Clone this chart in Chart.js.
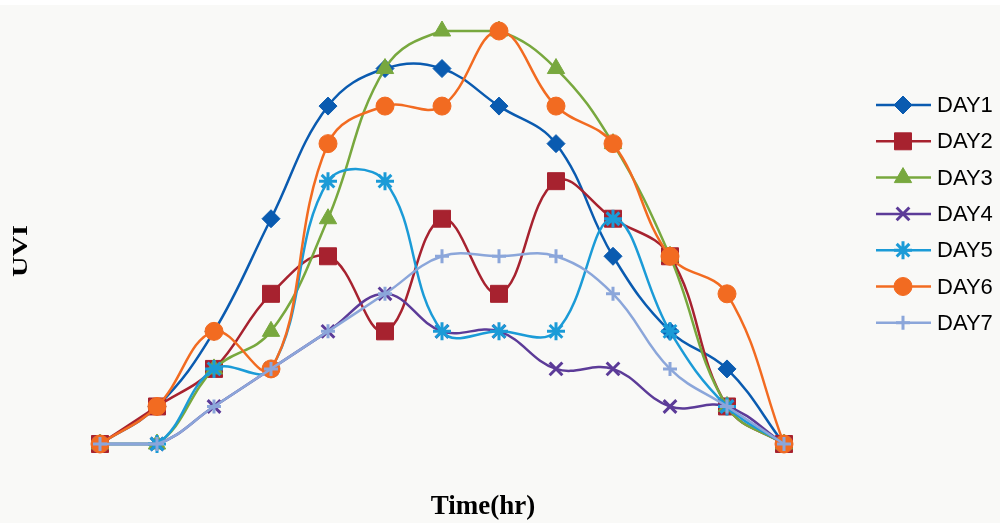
<!DOCTYPE html>
<html>
<head>
<meta charset="utf-8">
<script src="https://cdn.jsdelivr.net/npm/chart.js@4/dist/chart.umd.min.js"></script>
<style>
    body { margin: 0; background: #f9f9f7; }
    #graficoContainer { position: relative; width: 1000px; height: 523px; }
</style>
</head>
<body>
<div id="graficoContainer"><canvas id="graficoUVI"></canvas></div>
<script>
// Dados (UVI por hora, 7 dias)
const horas = ['1', '2', '3', '4', '5', '6', '7', '8', '9', '10', '11', '12', '13'];
const nomesDias = ['DAY1', 'DAY2', 'DAY3', 'DAY4', 'DAY5', 'DAY6', 'DAY7'];
const dia1 = [0, 1, 3, 6, 9, 10, 10, 9, 8, 5, 3, 2, 0];
const dia2 = [0, 1, 2, 4, 5, 3, 6, 4, 7, 6, 5, 1, 0];
const dia3 = [0, 0, 2, 3, 6, 10, 11, 11, 10, 8, 5, 1, 0];
const dia4 = [0, 0, 1, 2, 3, 4, 3, 3, 2, 2, 1, 1, 0];
const dia5 = [0, 0, 2, 2, 7, 7, 3, 3, 3, 6, 3, 1, 0];
const dia6 = [0, 1, 3, 2, 8, 9, 9, 11, 9, 8, 5, 4, 0];
const dia7 = [0, 0, 1, 2, 3, 4, 5, 5, 5, 4, 2, 1, 0];

const valores = [dia1, dia2, dia3, dia4, dia5, dia6, dia7];
const cores = ['#0a5bb0', '#a7222f', '#78a83e', '#5c3b98', '#1b9bd7', '#f26b21', '#8ba6da'];
const marcadores = ['rectRot', 'rect', 'triangle', 'crossRot', 'star', 'circle', 'cross'];
const raios = [9, 12, 10, 9, 9, 9, 7];

// Monta os datasets (Excel desenha a última série por cima)
const datasets = valores.map((dados, i) => {
    const traco = ['crossRot', 'star', 'cross'].includes(marcadores[i]);
    return {
        label: nomesDias[i],
        data: dados,
        borderColor: cores[i],
        backgroundColor: cores[i],
        borderWidth: 2.5,
        tension: 0.4,
        pointStyle: marcadores[i],
        pointRadius: raios[i],
        pointBorderWidth: traco ? 3 : 1,
        pointBorderColor: cores[i],
        pointBackgroundColor: cores[i],
        order: 7 - i,
        clip: false
    };
});

// Plugin para fundo, títulos dos eixos e legenda
const extras = {
    id: 'extras',
    beforeDraw(chart) {
        const ctx = chart.ctx;
        ctx.save();
        ctx.fillStyle = '#f9f9f7';
        ctx.fillRect(0, 0, chart.width, chart.height);
        ctx.fillStyle = '#ffffff';
        ctx.fillRect(0, 0, chart.width, 5);
        ctx.restore();
    },
    afterDraw(chart) {
        const ctx = chart.ctx;
        ctx.save();
        ctx.fillStyle = '#000000';
        ctx.font = 'bold 27px "Liberation Serif", "Times New Roman", serif';
        ctx.textAlign = 'center';
        ctx.textBaseline = 'middle';
        ctx.fillText('Time(hr)', 483, 507);

        ctx.save();
        ctx.translate(22, 251);
        ctx.rotate(-Math.PI / 2);
        ctx.scale(1.05, 0.75);
        ctx.fillText('UVI', 0, 0);
        ctx.restore();

        // Legenda
        ctx.font = '22px "Liberation Sans", Arial, sans-serif';
        ctx.textAlign = 'left';
        nomesDias.forEach((nome, i) => {
            const y = 105 + i * 36.3;
            ctx.strokeStyle = cores[i];
            ctx.fillStyle = cores[i];
            ctx.lineWidth = 2.5;
            ctx.beginPath();
            ctx.moveTo(876, y);
            ctx.lineTo(931, y);
            ctx.stroke();
            const traco = ['crossRot', 'star', 'cross'].includes(marcadores[i]);
            ctx.lineWidth = traco ? 3 : 1;
            Chart.helpers.drawPoint(ctx, {
                pointStyle: marcadores[i],
                radius: raios[i],
                rotation: 0,
                borderWidth: traco ? 3 : 1
            }, 903, y);
            ctx.fillStyle = '#000000';
            ctx.fillText(nome, 937, y + 1);
        });
        ctx.restore();
    }
};

const ctx = document.getElementById('graficoUVI').getContext('2d');
new Chart(ctx, {
    type: 'line',
    data: { labels: horas, datasets: datasets },
    options: {
        responsive: true,
        maintainAspectRatio: false,
        animation: false,
        layout: { padding: { left: 100, right: 216, top: 31, bottom: 79 } },
        scales: {
            x: { display: false, offset: false },
            y: { display: false, min: 0, max: 11 }
        },
        plugins: {
            legend: { display: false },
            tooltip: { enabled: false }
        }
    },
    plugins: [extras]
});
</script>
</body>
</html>
